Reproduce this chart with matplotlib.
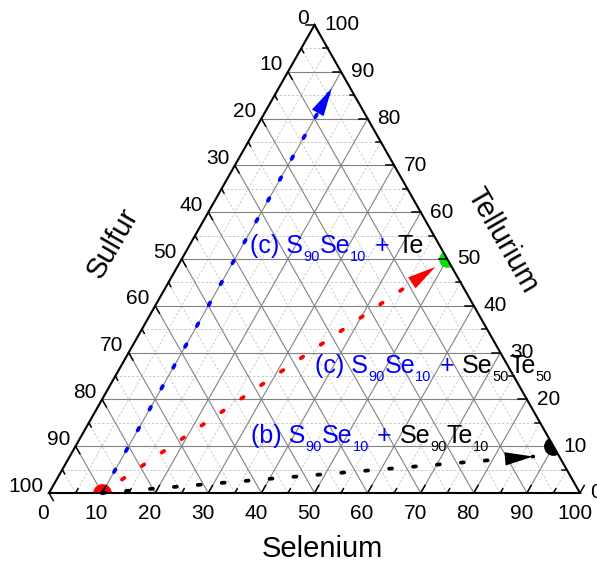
#!/usr/bin/env python3
"""
Ternary diagram S - Se - Te with three mixing lines
"""

import numpy as np
import matplotlib
matplotlib.use('Agg')
import matplotlib.pyplot as plt
from matplotlib.patches import Polygon
from matplotlib.transforms import IdentityTransform

plt.rcParams['font.family'] = ['Liberation Sans', 'DejaVu Sans']

# compositions as (S, Se, Te) in %
start = (90, 10, 0)            # S90Se10
blue_end = (3.5, 10, 86.5)     # + Te
red_end = (3.1, 48.6, 48.3)    # + Se50Te50
black_end = (4.9, 87.3, 7.8)   # + Se90Te10
green_pt = (0, 50, 50)         # Se50Te50
black_pt = (0, 90, 10)         # Se90Te10

major = np.arange(10, 100, 10)
minor = np.arange(5, 100, 10)
tick_vals = np.arange(0, 101, 5)
label_vals = np.arange(0, 101, 10)


def tern(s, se, te):
    # ternary -> cartesian (x along the Selenium axis, y = Tellurium)
    return se + te / 2.0, te


def seg(a, b, **kw):
    xa, ya = tern(*a)
    xb, yb = tern(*b)
    ax.plot([xa, xb], [ya, yb], **kw)


W, H = 597, 564
fig = plt.figure(figsize=(W / 100, H / 100), dpi=100)
ax = fig.add_axes([49 / W, 71 / H, 531 / W, 468 / H])
ax.set_xlim(0, 100)
ax.set_ylim(0, 100)
ax.axis('off')

# grid
for v in minor:
    kw = dict(color='#c4c4c4', lw=0.6, ls=(0, (3, 2)), zorder=1)
    seg((100 - v, 0, v), (0, 100 - v, v), **kw)
    seg((100 - v, v, 0), (0, v, 100 - v), **kw)
    seg((v, 100 - v, 0), (v, 0, 100 - v), **kw)
for v in major:
    kw = dict(color='#828282', lw=0.8, zorder=1.5)
    seg((100 - v, 0, v), (0, 100 - v, v), **kw)
    seg((100 - v, v, 0), (0, v, 100 - v), **kw)
    seg((v, 100 - v, 0), (v, 0, 100 - v), **kw)

# frame
tri = Polygon([tern(100, 0, 0), tern(0, 100, 0), tern(0, 0, 100)], closed=True,
              fill=False, ec='black', lw=1.5, zorder=6, clip_on=False)
ax.add_patch(tri)

# ticks, pointing inward along each axis' own grid direction
for v in tick_vals:
    L = 1.6 if v % 10 == 0 else 0.9
    kw = dict(color='black', lw=1.1, zorder=6, clip_on=False)
    seg((v, 0, 100 - v), (v, L, 100 - v - L), **kw)          # Sulfur
    seg((100 - v, v, 0), (100 - v - L, v, L), **kw)          # Selenium
    seg((0, 100 - v, v), (L, 100 - v - L, v), **kw)          # Tellurium

for v in label_vals:
    ax.annotate(str(v), xy=tern(v, 0, 100 - v), xytext=(-4, 5),
                textcoords='offset points', ha='right', va='center',
                fontsize=15, annotation_clip=False)
    ax.annotate(str(v), xy=tern(100 - v, v, 0), xytext=(-4, -15),
                textcoords='offset points', ha='center', va='center',
                fontsize=15, annotation_clip=False)
    ax.annotate(str(v), xy=tern(0, 100 - v, v), xytext=(7, 0),
                textcoords='offset points', ha='left', va='center',
                fontsize=15, annotation_clip=False)

fig.text(322.5 / W, 1 - 556.7 / H, 'Selenium', ha='center', va='baseline', fontsize=21)
fig.text(113 / W, 1 - 243 / H, 'Sulfur', ha='center', va='center', rotation=60,
         rotation_mode='anchor', fontsize=21)
fig.text(502 / W, 1 - 240 / H, 'Tellurium', ha='center', va='center', rotation=-60,
         rotation_mode='anchor', fontsize=21)

# end point markers (clipped to the triangle)
x0, y0 = tern(*start)
m, = ax.plot([x0], [y0], 'o', ms=12.5, color='red', mec='red', zorder=3)
m.set_clip_path(tri)
for pt, c, ms in [(green_pt, '#00e600', 11), (black_pt, 'black', 12.5)]:
    xp, yp = tern(*pt)
    m, = ax.plot([xp], [yp], 'o', ms=ms, color=c, mec=c, zorder=3)
    m.set_clip_path(tri)

# dotted mixing lines with arrow heads
for end, c in [(blue_end, 'blue'), (red_end, 'red'), (black_end, 'black')]:
    x1, y1 = tern(*end)
    ax.plot([x0, x1], [y0, y1], color=c, lw=2.7, ls=(0, (0.8, 5.6)),
            dash_capstyle='round', zorder=4, clip_on=False)
    ax.annotate('', xy=(x1, y1), xytext=(x0, y0),
                arrowprops=dict(arrowstyle='-|>,head_length=1.7,head_width=0.4',
                                fc=c, ec=c, lw=0, shrinkA=0, shrinkB=0,
                                mutation_scale=12),
                annotation_clip=False, zorder=4)

# composition labels, written piece by piece so that colours can change
renderer = fig.canvas.get_renderer()


def label(pieces, x, y):
    # y is the baseline in pixels from the top of the picture
    yb = H - y
    for s, c, sub, gap in pieces:
        x += gap
        t = fig.text(x, yb - 8 if sub else yb, s, color=c,
                     fontsize=10.5 if sub else 18, ha='left', va='baseline',
                     transform=IdentityTransform())
        x = t.get_window_extent(renderer).x1


def mix(tag, other):
    p = [(tag + ' S', 'blue', False, 0), ('90', 'blue', True, 0),
         ('Se', 'blue', False, 0), ('10', 'blue', True, 0),
         ('+', 'blue', False, 8)]
    gap = 8
    for i, s in enumerate(other):
        p.append((s, 'black', i % 2 == 1, gap))
        gap = 0
    return p


label(mix('(c)', ['Te']), 250, 253.3)
label(mix('(c)', ['Se', '50', 'Te', '50']), 315, 373.3)
label(mix('(b)', ['Se', '90', 'Te', '10']), 251, 443.3)

plt.savefig('out.png', dpi=100)
